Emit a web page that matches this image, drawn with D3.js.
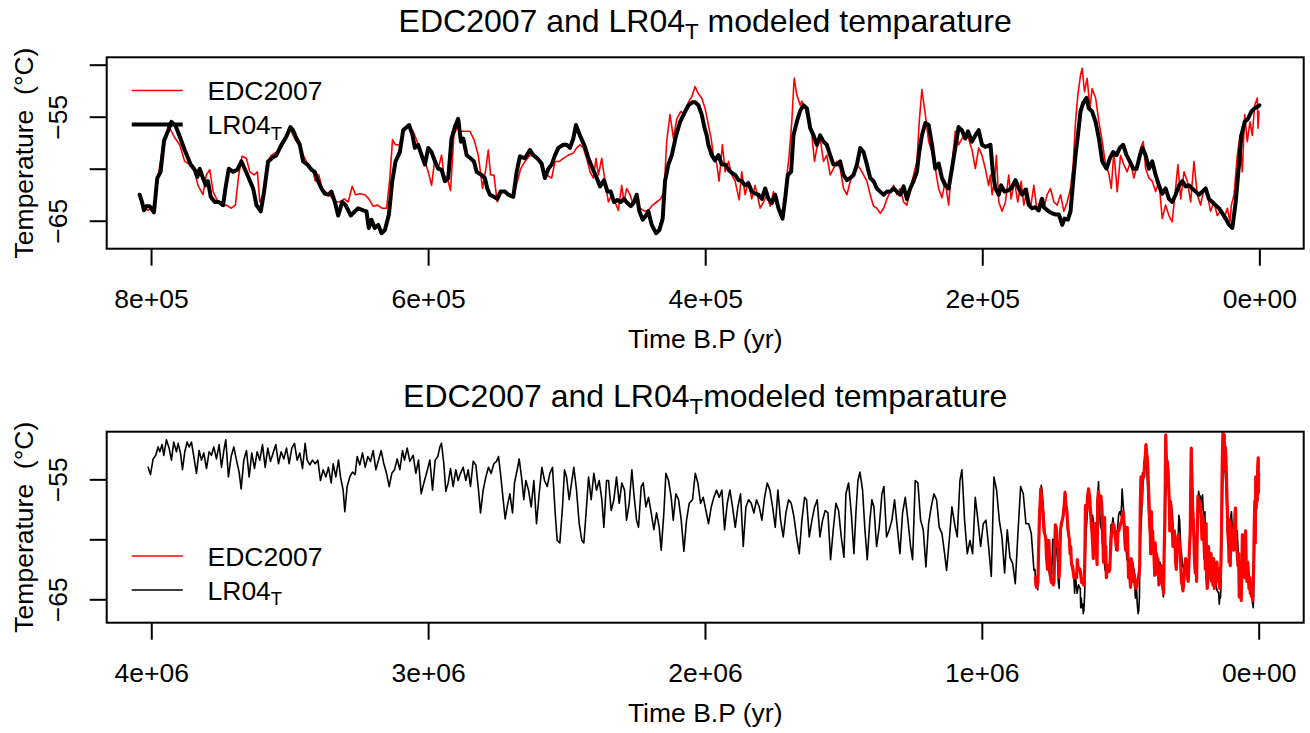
<!DOCTYPE html>
<html>
<head>
<meta charset="utf-8">
<script src="https://cdnjs.cloudflare.com/ajax/libs/d3/7.8.5/d3.min.js"></script>
<style>
  body { margin: 0; background: #fff; }
  text { font-family: "Liberation Sans", Arial, Helvetica, sans-serif; fill: #000; }
</style>
</head>
<body>
<div id="chart"></div>
<script>
// ages in kyr BP, temperatures in degC

// EDC2007 (Dome C) temperature, 0 - 806 kyr
const edc2007 = [
  [806.5,-63.2],[804.6,-63.8],[802.2,-64.0],[799.8,-63.8],[797.4,-63.6],[795.0,-60.9],[791.4,-57.7],[789.0,-56.8],
  [787.3,-55.8],[785.3,-56.4],[782.5,-57.1],[779.3,-57.7],[775.7,-59.3],[772.1,-59.6],[769.0,-60.0],[766.1,-61.6],
  [762.5,-62.5],[760.1,-60.6],[757.6,-60.1],[755.2,-62.2],[751.6,-63.2],[748.7,-63.6],[745.6,-63.5],[742.0,-63.8],
  [739.1,-63.5],[736.7,-60.6],[734.3,-58.8],[731.2,-59.0],[728.7,-60.3],[725.6,-60.6],[723.2,-60.3],[721.5,-63.2],
  [719.1,-62.5],[716.0,-59.3],[713.1,-58.7],[709.5,-58.4],[705.9,-58.0],[702.3,-57.1],[699.4,-56.1],[697.5,-56.8],
  [695.0,-57.4],[692.6,-57.7],[690.2,-58.7],[686.6,-59.6],[683.7,-60.0],[681.3,-61.2],[678.9,-60.6],[676.5,-61.9],
  [674.1,-62.2],[671.0,-62.5],[667.3,-63.2],[663.7,-63.2],[660.6,-62.9],[657.7,-63.2],[654.8,-61.7],[652.4,-62.5],
  [649.3,-62.4],[645.7,-62.5],[642.8,-62.9],[639.7,-63.6],[636.5,-63.5],[633.1,-63.8],[630.0,-63.8],[627.6,-60.9],
  [625.7,-57.2],[623.5,-57.7],[620.4,-57.7],[618.0,-56.4],[614.4,-55.8],[610.8,-56.4],[607.9,-57.4],[604.7,-58.7],
  [602.3,-59.3],[599.9,-60.3],[597.5,-61.6],[595.1,-59.0],[592.7,-60.0],[590.3,-58.7],[588.6,-60.6],[586.2,-60.9],
  [583.8,-62.1],[581.4,-56.8],[579.0,-56.0],[576.6,-56.4],[573.4,-56.4],[569.8,-56.4],[566.9,-57.2],[563.8,-58.7],
  [560.7,-61.9],[558.3,-60.0],[556.6,-58.2],[554.9,-60.6],[552.5,-60.6],[550.1,-63.2],[547.0,-62.2],[543.8,-62.2],
  [540.9,-62.7],[538.0,-62.5],[535.6,-61.2],[533.2,-60.0],[530.1,-59.3],[526.5,-58.7],[522.9,-58.8],[519.8,-59.3],
  [516.9,-60.0],[514.4,-60.6],[510.8,-60.9],[508.4,-59.3],[505.3,-59.3],[502.4,-59.0],[498.8,-58.7],[495.2,-58.5],
  [492.8,-58.0],[490.4,-57.7],[488.0,-58.0],[485.6,-59.0],[483.1,-60.3],[480.7,-60.9],[478.8,-59.0],[477.1,-60.6],
  [474.7,-59.0],[472.3,-61.2],[469.9,-63.2],[467.5,-62.5],[465.1,-63.2],[462.7,-64.0],[460.3,-61.6],[458.6,-63.2],
  [456.7,-61.9],[454.3,-62.5],[451.8,-63.5],[449.4,-62.9],[447.0,-63.8],[443.4,-64.1],[441.0,-64.0],[437.9,-63.5],
  [435.0,-63.2],[432.1,-62.9],[429.7,-62.2],[427.8,-57.4],[425.4,-54.8],[422.9,-57.1],[420.5,-55.2],[417.6,-54.5],
  [414.5,-54.8],[412.1,-53.6],[409.7,-53.1],[407.3,-52.1],[404.9,-52.8],[402.5,-53.2],[400.1,-54.2],[397.7,-55.8],
  [395.7,-57.1],[394.1,-58.7],[391.6,-59.6],[390.0,-61.2],[387.6,-57.7],[385.6,-60.3],[383.2,-59.3],[380.8,-60.6],
  [378.4,-61.2],[375.5,-63.0],[373.6,-60.3],[371.2,-62.5],[368.8,-61.2],[366.4,-62.9],[364.0,-61.6],[360.3,-63.8],
  [357.9,-63.2],[355.5,-62.5],[353.1,-63.6],[350.7,-62.2],[348.3,-63.5],[345.9,-64.1],[343.5,-64.5],[341.8,-61.6],
  [339.4,-58.7],[337.5,-55.5],[335.8,-51.3],[333.9,-52.9],[331.4,-53.9],[330.2,-53.5],[327.8,-54.2],[325.4,-55.5],
  [323.0,-56.8],[321.1,-59.3],[319.4,-58.0],[317.0,-57.1],[314.6,-59.3],[312.2,-58.7],[309.8,-60.6],[307.4,-60.0],
  [305.0,-59.3],[302.6,-60.0],[300.2,-61.9],[297.7,-62.5],[295.3,-61.2],[292.9,-60.3],[290.5,-59.6],[288.1,-60.0],
  [285.7,-60.6],[283.3,-61.2],[280.9,-62.5],[278.5,-63.6],[276.1,-63.8],[273.7,-64.3],[271.2,-63.8],[268.8,-62.9],
  [266.4,-62.2],[264.0,-61.6],[261.6,-62.5],[259.2,-61.9],[256.8,-63.2],[254.4,-63.5],[252.0,-61.9],[249.6,-60.6],
  [247.2,-59.3],[245.5,-55.5],[243.6,-52.4],[241.1,-54.8],[238.7,-57.4],[236.3,-58.4],[233.9,-60.0],[231.5,-61.9],
  [229.1,-62.8],[226.7,-61.2],[224.3,-63.5],[221.9,-59.6],[219.5,-56.4],[217.1,-57.7],[214.7,-57.1],[212.3,-56.8],
  [209.9,-57.1],[207.4,-58.2],[205.0,-60.0],[202.6,-58.0],[200.2,-58.7],[197.8,-60.0],[195.4,-61.6],[194.1,-60.6],
  [192.9,-62.5],[191.2,-61.2],[189.8,-58.7],[188.1,-63.2],[185.7,-64.1],[183.3,-63.2],[180.9,-60.6],[179.2,-62.9],
  [176.8,-61.2],[174.4,-63.2],[171.9,-61.2],[170.0,-63.5],[167.6,-61.9],[165.2,-63.8],[162.8,-61.6],[160.4,-64.1],
  [158.0,-62.9],[155.6,-63.8],[153.2,-62.5],[150.8,-61.9],[148.3,-63.2],[145.9,-63.5],[143.5,-62.5],[141.1,-64.1],
  [138.7,-63.2],[136.3,-61.9],[134.4,-59.6],[132.7,-55.5],[131.0,-52.9],[129.1,-51.0],[127.9,-50.35],[126.2,-52.6],
  [124.3,-51.3],[122.3,-54.2],[120.7,-52.3],[118.2,-53.2],[115.8,-55.5],[113.4,-57.4],[111.0,-59.6],[108.6,-60.5],
  [106.9,-61.9],[105.0,-58.4],[102.6,-62.2],[100.2,-58.7],[97.8,-59.6],[95.4,-60.3],[93.0,-59.3],[90.6,-60.9],
  [88.1,-59.6],[85.7,-58.0],[83.8,-57.4],[82.1,-60.0],[79.7,-60.9],[77.3,-61.2],[74.9,-62.2],[72.5,-61.2],
  [70.1,-64.8],[67.7,-63.5],[65.3,-64.5],[62.9,-65.1],[60.5,-61.9],[58.8,-59.6],[56.8,-62.9],[54.4,-60.3],
  [52.0,-61.2],[49.6,-63.2],[47.2,-59.3],[44.8,-62.5],[42.4,-63.5],[40.0,-61.9],[37.6,-62.5],[35.2,-64.1],
  [32.8,-63.2],[30.4,-64.5],[27.9,-64.1],[25.5,-64.8],[23.1,-63.8],[21.2,-65.1],[20.2,-63.5],[18.3,-62.5],
  [15.9,-58.7],[14.0,-56.8],[12.3,-60.3],[10.6,-54.8],[8.7,-57.4],[6.8,-55.5],[5.1,-56.8],[3.4,-53.9],
  [1.5,-53.2],[1.0,-56.1],[0.3,-54.5]
];

// LR04 modeled temperature, 0 - 808 kyr
const lr04Recent = [
  [808.2,-62.5],[806.5,-63.2],[805.1,-64.0],[803.4,-63.6],[801.0,-63.6],[797.9,-64.2],[795.5,-60.9],[793.1,-60.3],
  [790.6,-57.3],[787.8,-56.4],[785.3,-55.5],[782.2,-55.9],[779.3,-56.9],[775.7,-58.2],[771.4,-59.6],[768.5,-60.1],
  [766.6,-60.8],[764.9,-60.0],[762.5,-60.9],[760.5,-61.6],[758.9,-61.2],[756.9,-62.7],[754.0,-63.2],[751.1,-63.2],
  [748.0,-63.5],[746.3,-61.9],[743.9,-60.0],[740.8,-60.3],[737.7,-60.1],[734.8,-59.3],[732.4,-60.0],[729.5,-60.9],
  [726.3,-61.9],[723.9,-63.5],[720.8,-64.1],[718.4,-62.2],[715.5,-59.3],[711.9,-58.9],[709.5,-58.7],[705.9,-57.7],
  [702.3,-56.9],[699.4,-56.0],[697.5,-56.3],[695.0,-57.1],[692.6,-57.7],[690.2,-59.3],[687.1,-59.6],[684.2,-60.1],
  [681.8,-60.3],[679.4,-61.2],[677.0,-61.9],[674.6,-62.4],[672.2,-62.5],[669.8,-62.2],[667.3,-63.2],[664.9,-64.5],
  [662.0,-63.2],[659.6,-63.5],[655.8,-64.5],[652.9,-64.1],[650.5,-63.8],[646.9,-64.0],[644.5,-64.1],[642.8,-65.7],
  [640.9,-64.9],[638.5,-65.7],[636.0,-65.4],[633.6,-66.2],[631.2,-65.9],[628.3,-64.4],[625.9,-61.2],[623.5,-59.3],
  [620.4,-58.4],[618.0,-56.3],[613.7,-55.8],[611.2,-56.8],[609.6,-58.0],[607.2,-57.7],[604.7,-58.7],[602.3,-59.6],
  [599.9,-58.0],[597.5,-58.4],[595.1,-59.3],[592.7,-60.0],[590.3,-60.1],[587.9,-61.2],[585.5,-60.9],[583.1,-57.1],
  [580.7,-56.0],[578.3,-55.2],[576.3,-57.4],[574.6,-57.1],[572.2,-58.7],[569.4,-59.0],[566.9,-59.3],[565.0,-60.3],
  [561.4,-60.6],[559.0,-60.9],[557.3,-61.9],[555.4,-62.5],[552.5,-62.7],[550.1,-62.9],[547.7,-62.2],[544.5,-62.2],
  [542.1,-62.5],[538.5,-62.7],[536.1,-60.3],[533.7,-58.8],[530.1,-59.0],[526.5,-58.2],[524.1,-58.7],[521.2,-59.0],
  [518.1,-59.5],[515.7,-60.9],[513.2,-60.0],[510.8,-59.6],[508.4,-58.7],[506.0,-58.0],[502.4,-57.7],[500.0,-57.7],
  [497.6,-58.0],[495.2,-57.1],[493.3,-55.8],[490.4,-56.8],[486.8,-57.9],[484.3,-59.0],[481.2,-60.0],[478.3,-60.9],
  [475.9,-61.7],[473.0,-61.1],[470.6,-62.2],[468.2,-62.2],[465.8,-63.2],[463.4,-63.0],[461.0,-63.2],[458.6,-62.9],
  [456.2,-63.3],[453.8,-63.6],[451.4,-63.2],[449.4,-62.5],[447.5,-64.1],[445.1,-64.9],[442.7,-64.5],[441.0,-64.1],
  [438.6,-65.4],[435.5,-66.2],[433.1,-65.9],[430.7,-64.8],[429.0,-61.2],[426.6,-59.6],[424.1,-58.7],[421.0,-56.8],
  [418.1,-55.5],[414.5,-54.5],[412.1,-53.9],[409.0,-53.6],[407.3,-53.6],[404.9,-53.9],[402.5,-54.8],[400.6,-56.0],
  [398.9,-56.8],[397.7,-57.7],[395.3,-58.7],[392.9,-59.2],[390.4,-58.7],[388.0,-59.6],[385.6,-59.6],[383.2,-60.1],
  [380.8,-60.4],[378.4,-60.6],[376.0,-61.1],[373.6,-61.2],[371.2,-61.6],[368.8,-61.4],[366.4,-62.2],[364.0,-62.4],
  [361.5,-62.5],[359.1,-62.9],[356.7,-61.9],[354.3,-62.9],[351.9,-63.3],[349.5,-62.5],[347.1,-63.8],[344.2,-64.8],
  [342.3,-62.9],[340.4,-60.6],[338.0,-60.3],[336.3,-56.8],[333.9,-55.5],[331.4,-54.4],[329.0,-53.9],[326.6,-54.2],
  [324.2,-56.1],[321.8,-56.8],[319.4,-57.7],[317.0,-56.8],[314.6,-57.4],[312.2,-57.7],[309.8,-58.7],[307.4,-59.6],
  [305.0,-59.6],[302.6,-59.3],[300.2,-60.6],[297.7,-61.1],[295.3,-60.9],[292.9,-60.6],[290.5,-59.6],[288.1,-58.0],
  [285.7,-58.4],[283.3,-59.6],[280.9,-60.9],[278.5,-61.2],[276.1,-61.9],[273.7,-62.2],[271.2,-62.5],[268.8,-62.2],
  [266.4,-62.2],[264.0,-61.9],[261.6,-62.2],[259.2,-62.5],[256.8,-61.7],[254.4,-62.9],[252.0,-61.9],[249.6,-61.2],
  [247.2,-60.3],[245.5,-58.4],[243.6,-56.8],[241.1,-55.6],[238.7,-55.8],[236.3,-57.7],[233.9,-60.0],[231.5,-59.5],
  [229.1,-60.9],[226.7,-61.6],[224.3,-61.9],[221.9,-60.0],[219.5,-58.0],[217.1,-56.0],[214.7,-56.3],[212.3,-57.1],
  [210.3,-56.4],[207.4,-57.4],[205.0,-56.8],[202.6,-56.3],[200.2,-57.7],[197.8,-57.9],[194.1,-57.7],[192.2,-60.6],
  [190.5,-61.9],[188.1,-62.5],[186.4,-61.6],[184.0,-62.2],[181.6,-62.1],[179.2,-61.9],[176.0,-61.1],[173.6,-61.9],
  [171.2,-62.5],[168.8,-62.0],[166.4,-63.5],[164.0,-63.8],[161.6,-63.7],[159.2,-64.0],[156.8,-62.9],[155.6,-63.7],
  [152.0,-64.1],[149.5,-64.3],[147.1,-64.4],[144.7,-64.4],[142.3,-65.4],[140.6,-64.8],[138.2,-64.9],[136.3,-64.1],
  [134.4,-61.2],[132.7,-58.7],[131.0,-56.8],[129.1,-54.5],[127.2,-53.7],[124.8,-53.2],[123.1,-54.2],[120.7,-54.5],
  [118.2,-55.5],[115.8,-57.1],[113.4,-59.3],[110.3,-60.0],[107.9,-59.0],[105.5,-58.4],[103.1,-58.7],[100.7,-58.0],
  [98.3,-57.7],[95.9,-58.7],[93.5,-59.3],[91.0,-60.0],[88.6,-60.0],[86.2,-58.7],[84.3,-58.0],[82.1,-58.7],
  [79.7,-60.0],[77.3,-59.3],[74.9,-60.6],[72.5,-61.6],[70.1,-62.4],[67.7,-61.9],[65.3,-62.9],[62.9,-63.2],
  [60.5,-62.5],[58.0,-61.6],[55.6,-61.2],[53.2,-61.7],[50.8,-61.6],[48.4,-61.9],[46.0,-62.2],[43.6,-62.5],
  [41.2,-62.2],[38.8,-61.9],[36.4,-62.9],[34.0,-63.2],[31.6,-63.5],[29.1,-63.8],[26.7,-64.3],[24.3,-64.8],
  [21.9,-65.4],[19.5,-65.7],[17.1,-63.2],[14.7,-59.6],[13.0,-56.8],[10.6,-55.5],[8.2,-55.2],[5.8,-54.5],
  [3.4,-54.2],[1.0,-54.0],[0.0,-53.9]
];

// LR04 modeled temperature, 812 - 4011 kyr
const lr04Older = [
  [4011.4,-54.0],[4003.0,-54.6],[3993.3,-53.3],[3983.7,-53.0],[3975.3,-52.3],[3969.2,-52.7],[3960.8,-52.1],[3954.8,-53.0],
  [3945.2,-51.7],[3935.5,-52.4],[3927.1,-53.4],[3918.7,-51.9],[3909.0,-52.7],[3903.0,-52.0],[3894.6,-52.8],[3887.3,-54.2],
  [3878.9,-52.7],[3870.5,-51.9],[3863.2,-52.3],[3854.8,-51.9],[3846.4,-53.1],[3836.8,-54.5],[3827.1,-52.6],[3818.7,-53.4],
  [3810.3,-52.8],[3800.6,-54.1],[3791.0,-52.7],[3782.6,-53.0],[3774.2,-52.3],[3764.5,-53.3],[3754.9,-52.1],[3746.4,-54.0],
  [3738.0,-52.6],[3730.8,-51.7],[3721.2,-54.8],[3711.5,-53.1],[3701.9,-52.3],[3692.3,-53.4],[3682.7,-54.4],[3675.4,-55.8],
  [3665.8,-53.4],[3656.1,-52.6],[3646.5,-54.8],[3636.9,-52.8],[3627.2,-54.1],[3617.6,-52.7],[3608.0,-53.4],[3598.3,-52.1],
  [3588.7,-54.0],[3579.1,-52.4],[3569.4,-53.5],[3559.8,-52.8],[3550.2,-52.1],[3540.5,-53.7],[3530.9,-52.7],[3521.2,-53.3],
  [3511.6,-52.4],[3502.0,-53.7],[3492.3,-52.4],[3482.7,-52.0],[3473.1,-53.4],[3463.4,-52.8],[3453.8,-54.1],[3444.2,-52.0],
  [3436.9,-53.4],[3427.3,-53.8],[3417.7,-53.4],[3408.0,-53.7],[3398.4,-53.4],[3388.8,-55.1],[3379.1,-54.2],[3369.5,-54.8],
  [3359.9,-54.0],[3350.2,-55.3],[3343.0,-53.7],[3333.4,-54.8],[3323.7,-53.4],[3316.5,-54.8],[3306.9,-55.9],[3300.9,-57.7],
  [3292.4,-55.6],[3282.8,-54.8],[3273.2,-54.4],[3263.6,-54.6],[3256.3,-53.1],[3246.7,-53.8],[3237.0,-52.8],[3227.4,-54.0],
  [3217.8,-53.1],[3208.1,-53.5],[3198.5,-52.6],[3188.9,-54.2],[3179.2,-53.4],[3169.6,-52.6],[3160.0,-53.7],[3150.3,-54.5],
  [3140.7,-55.6],[3131.1,-54.5],[3121.4,-54.2],[3111.8,-53.3],[3102.1,-54.2],[3092.5,-52.6],[3085.3,-53.4],[3075.6,-52.4],
  [3066.0,-53.5],[3054.0,-53.0],[3044.3,-54.5],[3034.7,-53.4],[3025.1,-56.2],[3015.4,-55.3],[3005.8,-54.5],[2993.8,-53.4],
  [2984.1,-55.9],[2974.5,-53.4],[2964.9,-53.1],[2957.6,-52.3],[2951.7,-52.0],[2943.3,-53.7],[2936.1,-56.0],[2927.6,-55.3],
  [2919.2,-54.1],[2909.6,-55.6],[2899.9,-54.2],[2891.5,-55.1],[2883.1,-54.5],[2873.4,-54.0],[2863.8,-55.1],[2855.4,-54.2],
  [2846.9,-55.6],[2837.3,-53.5],[2827.7,-53.8],[2818.0,-55.9],[2810.8,-57.8],[2801.2,-55.9],[2791.5,-54.8],[2781.9,-54.0],
  [2772.3,-54.5],[2762.6,-53.7],[2753.0,-53.5],[2745.8,-53.1],[2738.6,-54.5],[2728.9,-56.7],[2721.7,-58.3],[2714.5,-57.3],
  [2704.8,-56.2],[2695.2,-57.8],[2688.0,-55.3],[2678.3,-54.2],[2671.1,-53.3],[2662.7,-54.8],[2654.3,-56.7],[2647.0,-55.1],
  [2637.4,-55.9],[2627.8,-57.3],[2618.1,-55.1],[2608.5,-58.7],[2598.9,-56.2],[2589.2,-54.0],[2579.6,-55.1],[2569.8,-55.6],
  [2560.3,-54.5],[2550.7,-54.0],[2541.1,-57.8],[2533.8,-60.1],[2524.2,-60.3],[2514.6,-57.3],[2507.3,-54.2],[2500.1,-54.8],
  [2490.5,-56.7],[2480.8,-55.1],[2473.6,-54.0],[2464.0,-55.9],[2454.3,-58.7],[2444.7,-60.1],[2437.5,-60.3],[2427.9,-57.3],
  [2420.6,-54.8],[2411.0,-56.7],[2401.4,-54.5],[2391.7,-55.9],[2382.1,-55.1],[2372.5,-56.7],[2365.2,-59.0],[2355.6,-55.1],
  [2348.4,-55.1],[2338.7,-57.6],[2329.1,-56.7],[2319.5,-54.8],[2309.8,-57.0],[2300.2,-55.3],[2290.6,-55.9],[2283.3,-58.4],
  [2273.7,-57.0],[2264.1,-54.2],[2256.8,-56.2],[2247.2,-58.4],[2240.0,-59.0],[2230.3,-55.6],[2223.1,-55.3],[2213.5,-57.3],
  [2203.8,-56.5],[2194.2,-57.8],[2184.6,-59.2],[2174.9,-57.8],[2165.3,-59.0],[2158.1,-60.9],[2148.5,-57.8],[2141.2,-54.5],
  [2131.6,-55.1],[2122.0,-56.5],[2114.7,-58.4],[2105.1,-56.2],[2095.5,-56.7],[2085.8,-58.4],[2076.2,-61.0],[2066.6,-58.4],
  [2056.9,-57.0],[2044.9,-56.7],[2035.2,-54.5],[2025.6,-55.3],[2016.0,-57.0],[2006.3,-56.5],[1996.7,-57.6],[1987.1,-58.7],
  [1977.4,-57.3],[1967.8,-56.5],[1958.2,-55.9],[1948.5,-56.5],[1938.9,-55.9],[1929.3,-59.2],[1919.6,-57.0],[1910.0,-55.9],
  [1900.4,-57.3],[1890.7,-59.0],[1881.1,-57.3],[1871.5,-56.2],[1861.8,-60.6],[1852.2,-57.3],[1842.6,-56.7],[1832.9,-57.0],
  [1823.3,-57.8],[1813.7,-56.7],[1804.0,-57.3],[1794.4,-58.4],[1784.7,-56.5],[1775.1,-55.3],[1765.5,-55.9],[1755.8,-57.3],
  [1746.2,-59.0],[1736.6,-55.9],[1726.9,-58.4],[1717.3,-59.8],[1707.7,-57.8],[1698.0,-56.7],[1688.4,-57.0],[1678.8,-58.1],
  [1669.1,-59.8],[1659.5,-61.2],[1649.9,-58.4],[1640.2,-56.5],[1633.0,-56.7],[1623.4,-59.8],[1613.7,-58.4],[1604.1,-57.3],
  [1594.5,-56.7],[1584.8,-59.8],[1575.2,-58.4],[1565.6,-57.6],[1555.9,-57.8],[1546.3,-61.7],[1536.7,-59.2],[1527.0,-57.0],
  [1517.4,-57.6],[1507.8,-59.8],[1498.1,-61.5],[1490.9,-56.2],[1481.3,-55.3],[1471.6,-57.8],[1462.0,-61.2],[1454.8,-57.8],
  [1447.5,-55.1],[1440.4,-54.4],[1430.8,-55.9],[1422.3,-59.2],[1413.9,-61.7],[1404.3,-58.4],[1397.0,-56.7],[1389.8,-57.3],
  [1380.2,-60.6],[1370.6,-59.0],[1360.9,-56.2],[1353.7,-55.6],[1344.1,-59.8],[1334.4,-59.2],[1324.8,-58.4],[1315.2,-56.7],
  [1305.5,-59.0],[1295.9,-61.2],[1286.3,-57.8],[1276.6,-56.5],[1267.0,-58.4],[1257.3,-60.6],[1250.1,-61.7],[1240.5,-55.1],
  [1230.9,-55.3],[1221.2,-58.4],[1211.6,-59.2],[1202.0,-62.3],[1192.3,-58.7],[1182.7,-57.3],[1173.0,-56.2],[1163.4,-56.7],
  [1153.8,-59.0],[1144.1,-59.5],[1134.5,-61.2],[1127.3,-62.6],[1117.7,-60.1],[1108.0,-57.3],[1098.4,-58.7],[1088.8,-59.8],
  [1079.1,-55.1],[1071.9,-54.2],[1062.3,-58.4],[1052.6,-61.2],[1043.0,-60.1],[1033.3,-61.2],[1023.7,-56.5],[1014.1,-58.4],
  [1004.4,-60.6],[994.8,-58.7],[985.2,-58.4],[975.5,-60.6],[965.9,-63.1],[956.3,-54.8],[946.6,-55.9],[937.0,-58.4],
  [927.4,-59.8],[917.7,-62.8],[908.1,-59.2],[898.5,-61.5],[888.8,-62.0],[879.2,-63.7],[869.6,-59.5],[859.9,-55.6],
  [850.3,-56.2],[840.7,-58.7],[831.0,-58.7],[821.4,-59.5],[811.8,-62.6]
];

// axis ticks
const topXTicks = [800, 600, 400, 200, 0];
const bottomXTicks = [4000, 3000, 2000, 1000, 0];
const topYTicks = [-65, -60, -55, -50];
const topYLabels = ["\u221265", "", "\u221255", ""];
const bottomYTicks = [-65, -60, -55];
const bottomYLabels = ["\u221265", "", "\u221255"];
const seriesNames = ["EDC2007", "LR04"];

const W = 1310, H = 733;
const FS = 26.5;      // base font size
const FS_MAIN = 32;   // title font size

const svg = d3.select("#chart").append("svg")
    .attr("width", W)
    .attr("height", H);

svg.append("rect").attr("width", W).attr("height", H).attr("fill", "#fff");

// years in e-notation like R ("8e+05")
function sciLabel(kyr) {
    const v = kyr * 1000;
    if (v === 0) return "0e+00";
    const e = Math.floor(Math.log10(v));
    const m = Math.round(v / Math.pow(10, e));
    return m + "e+" + String(e).padStart(2, "0");
}

// text with a subscript T after "LR04"
function subText(g, x, y, pre, post, size, anchor) {
    const t = g.append("text")
        .attr("x", x)
        .attr("y", y)
        .attr("text-anchor", anchor)
        .style("font-size", size + "px");
    t.append("tspan").text(pre);
    t.append("tspan").attr("dy", size * 0.22).style("font-size", (size * 0.7) + "px").text("T");
    if (post) t.append("tspan").attr("dy", -size * 0.22).text(post);
    return t;
}

function drawPanel(cfg) {
    const left = 106.7, right = 1303.7;
    const g = svg.append("g");

    const x = d3.scaleLinear().domain(cfg.xDomain).range([left, right]);
    const y = d3.scaleLinear().domain(cfg.yDomain).range([cfg.bottom, cfg.top]);

    const clipId = "clip-" + cfg.id;
    svg.append("clipPath").attr("id", clipId)
        .append("rect")
        .attr("x", left).attr("y", cfg.top)
        .attr("width", right - left).attr("height", cfg.bottom - cfg.top);

    const line = d3.line()
        .x(d => x(d[0]))
        .y(d => y(d[1]));

    const plot = g.append("g").attr("clip-path", `url(#${clipId})`);
    cfg.series.forEach(s => {
        plot.append("path")
            .datum(s.data)
            .attr("d", line)
            .attr("fill", "none")
            .attr("stroke", s.color)
            .attr("stroke-width", s.width)
            .attr("stroke-linejoin", "round")
            .attr("stroke-linecap", "round");
    });

    // box
    g.append("rect")
        .attr("x", left).attr("y", cfg.top)
        .attr("width", right - left).attr("height", cfg.bottom - cfg.top)
        .attr("fill", "none")
        .attr("stroke", "#000")
        .attr("stroke-width", 2);

    // x axis
    const xAxis = g.append("g")
        .attr("transform", `translate(0,${cfg.bottom})`)
        .call(d3.axisBottom(x).tickValues(cfg.xTicks).tickFormat(sciLabel).tickSize(17).tickPadding(23));
    xAxis.select(".domain").remove();
    xAxis.selectAll(".tick line").attr("stroke", "#000").attr("stroke-width", 2);
    xAxis.selectAll(".tick text").style("font-size", FS + "px").style("font-family", null);

    // y axis, labels parallel to the axis
    const yAxis = g.append("g")
        .attr("transform", `translate(${left},0)`)
        .call(d3.axisLeft(y).tickValues(cfg.yTicks).tickFormat((d, i) => cfg.yLabels[i]).tickSize(17));
    yAxis.select(".domain").remove();
    yAxis.selectAll(".tick line").attr("stroke", "#000").attr("stroke-width", 2);
    yAxis.selectAll(".tick text")
        .attr("transform", "rotate(-90)")
        .attr("x", 0)
        .attr("y", -40)
        .attr("dy", 0)
        .attr("text-anchor", "middle")
        .style("font-size", FS + "px")
        .style("font-family", null);

    // axis titles
    g.append("text")
        .attr("x", (left + right) / 2)
        .attr("y", cfg.bottom + 99)
        .attr("text-anchor", "middle")
        .style("font-size", FS + "px")
        .text("Time B.P (yr)");

    g.append("text")
        .attr("transform", `translate(33,${(cfg.top + cfg.bottom) / 2}) rotate(-90)`)
        .attr("text-anchor", "middle")
        .style("font-size", FS + "px")
        .style("white-space", "pre")
        .text("Temperature  (\u00B0C)");

    // title
    subText(g, (left + right) / 2, cfg.top - 25, "EDC2007 and LR04", cfg.titleRest, FS_MAIN, "middle");

    // legend
    const lg = g.append("g");
    cfg.legend.forEach((item, i) => {
        const ly = cfg.legendY + i * 34;
        lg.append("line")
            .attr("x1", 131.7).attr("x2", 182.7)
            .attr("y1", ly).attr("y2", ly)
            .attr("stroke", item.color)
            .attr("stroke-width", item.width);
        if (i === 0) {
            lg.append("text")
                .attr("x", 207.5).attr("y", ly + FS * 0.36)
                .style("font-size", FS + "px")
                .text(seriesNames[0]);
        } else {
            subText(lg, 207.5, ly + FS * 0.36, seriesNames[1], null, FS, "start");
        }
    });
}

// top panel: last 800 kyr
drawPanel({
    id: "top",
    top: 57.3, bottom: 248.7,
    xDomain: [832, -32],
    yDomain: [-67.69, -49.29],
    xTicks: topXTicks,
    yTicks: topYTicks,
    yLabels: topYLabels,
    titleRest: " modeled temparature",
    series: [
        { data: edc2007, color: "#ff0000", width: 1.6 },
        { data: lr04Recent, color: "#000", width: 4 }
    ],
    legendY: 90.5,
    legend: [
        { color: "#ff0000", width: 1.6 },
        { color: "#000", width: 4 }
    ]
});

// bottom panel: whole LR04 record
drawPanel({
    id: "bottom",
    top: 431.7, bottom: 622.7,
    xDomain: [4161, -162.6],
    yDomain: [-66.95, -51.03],
    xTicks: bottomXTicks,
    yTicks: bottomYTicks,
    yLabels: bottomYLabels,
    titleRest: "modeled temparature",
    series: [
        { data: lr04Older.concat(lr04Recent), color: "#000", width: 1.6 },
        { data: edc2007, color: "#ff0000", width: 3.2 }
    ],
    legendY: 556,
    legend: [
        { color: "#ff0000", width: 1.6 },
        { color: "#000", width: 1.6 }
    ]
});
</script>
</body>
</html>
